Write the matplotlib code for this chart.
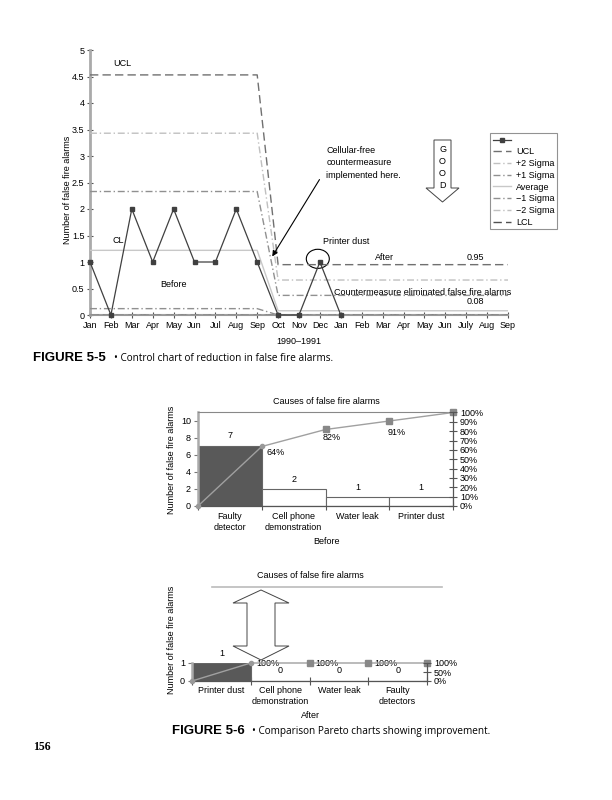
import numpy as np
import matplotlib
matplotlib.use("Agg")
import matplotlib.pyplot as plt
from matplotlib.patches import Ellipse, Polygon
from matplotlib.lines import Line2D

plt.rcParams['font.family'] = ['Liberation Sans', 'DejaVu Sans']

# ---- control chart data (Jan 1990 .. Sep 1991) ----
months = ["Jan", "Feb", "Mar", "Apr", "May", "Jun", "Jul", "Aug", "Sep",
          "Oct", "Nov", "Dec", "Jan", "Feb", "Mar", "Apr", "May", "Jun",
          "July", "Aug", "Sep"]
alarms = [1, 0, 2, 1, 2, 1, 1, 2, 1, 0, 0, 1, 0]

ucl = [4.53] * 9 + [0.95] * 12
plus2 = [3.43] * 9 + [0.66] * 12
plus1 = [2.33] * 9 + [0.37] * 12
average = [1.22] * 9 + [0.08] * 12
minus1 = [0.12] * 9 + [0.0] * 12
minus2 = [0.0] * 21
lcl = [0.0] * 21

# ---- pareto data ----
before_causes = ["Faulty\ndetector", "Cell phone\ndemonstration", "Water leak", "Printer dust"]
before_counts = [7, 2, 1, 1]
before_cumulative = [7, 9, 10, 11]
before_pct = [64, 82, 91, 100]

after_causes = ["Printer dust", "Cell phone\ndemonstration", "Water leak", "Faulty\ndetectors"]
after_counts = [1, 0, 0, 0]
after_cumulative = [1, 1, 1, 1]
after_pct = [100, 100, 100, 100]

W, H = 612, 800
fig = plt.figure(figsize=(W / 100, H / 100), dpi=100)


def fx(px):
    return px / W


def fy(py):
    return 1 - py / H


FS = 6.5

# ================= Figure 5-5: control chart =================
ax1 = fig.add_axes([fx(90), fy(315), 418 / W, 265 / H])
x = np.arange(len(months))

limit_styles = [
    ("UCL", ucl, '#707070', (6, 3)),
    ("+2 Sigma", plus2, '#c0c0c0', (5, 2, 1, 2)),
    ("+1 Sigma", plus1, '#909090', (5, 2, 1, 2)),
    ("Average", average, '#c8c8c8', None),
    ("\u22121 Sigma", minus1, '#909090', (5, 2, 1, 2)),
    ("\u22122 Sigma", minus2, '#c0c0c0', (5, 2, 1, 2)),
    ("LCL", lcl, '#505050', (6, 3)),
]
handles = []
h, = ax1.plot(x[:len(alarms)], alarms, color='#404040', lw=0.9, marker='s', ms=2.5,
              clip_on=False, zorder=5, label=' ')
handles.append(h)
for name, vals, col, dash in limit_styles:
    if dash is None:
        ln, = ax1.plot(x, vals, color=col, lw=1.0, label=name, zorder=3)
    else:
        ln, = ax1.plot(x, vals, color=col, lw=1.0, dashes=dash, label=name, zorder=3)
    handles.append(ln)

ax1.set_xlim(0, 20)
ax1.set_ylim(0, 5)
ax1.set_xticks(x)
ax1.set_xticklabels(months, fontsize=FS)
yt = np.arange(0, 5.01, 0.5)
ax1.set_yticks(yt)
ax1.set_yticklabels(['{:g}'.format(v) for v in yt], fontsize=FS)
ax1.tick_params(axis='both', direction='inout', length=4, width=0.8, color='#555', pad=2)
for s in ['top', 'right']:
    ax1.spines[s].set_visible(False)
ax1.spines['left'].set_color('#aaaaaa')
ax1.spines['left'].set_linewidth(2)
ax1.spines['bottom'].set_color('#999999')
ax1.spines['bottom'].set_linewidth(1.5)
ax1.set_xlabel("1990\u20131991", fontsize=FS, labelpad=5)
fig.text(fx(68), fy(190), "Number of false fire alarms", rotation=90, fontsize=FS,
         ha='center', va='center')

ax1.text(1.1, 4.75, "UCL", fontsize=FS, va='center')
ax1.text(1.1, 1.41, "CL", fontsize=FS, va='center')
ax1.text(4.0, 0.57, "Before", fontsize=FS, ha='center', va='center')
ax1.text(11.3, 2.87, "Cellular-free\ncountermeasure\nimplemented here.", fontsize=FS,
         va='center', linespacing=1.45)
ax1.annotate('', xy=(8.65, 1.06), xytext=(11.05, 2.6),
             arrowprops=dict(arrowstyle='-|>', color='black', lw=0.8, mutation_scale=8))
ax1.text(11.15, 1.38, "Printer dust", fontsize=FS, va='center')
ax1.add_patch(Ellipse((10.9, 1.06), 1.1, 0.36, fill=False, ec='black', lw=0.8))
ax1.text(14.07, 1.09, "After", fontsize=FS, ha='center', va='center')
ax1.text(18.45, 1.09, "0.95", fontsize=FS, ha='center', va='center')
ax1.text(11.67, 0.42, "Countermeasure eliminated false fire alarms", fontsize=FS, va='center')
ax1.text(18.45, 0.25, "0.08", fontsize=FS, ha='center', va='center')

# GOOD arrow
good = Polygon([(fx(434), fy(140)), (fx(451), fy(140)), (fx(451), fy(188)), (fx(459), fy(188)),
                (fx(442.5), fy(202)), (fx(426), fy(188)), (fx(434), fy(188))],
               closed=True, fill=False, ec='#444', lw=0.7, transform=fig.transFigure)
fig.patches.append(good)
for ch, py in zip("GOOD", [149, 161, 174, 186]):
    fig.text(fx(442.5), fy(py), ch, fontsize=FS, ha='center', va='center')

leg = ax1.legend(handles=handles, loc='upper left', bbox_to_anchor=(fx(490), fy(133)),
                 bbox_transform=fig.transFigure, fontsize=FS, frameon=True, fancybox=False,
                 edgecolor='#777', handlelength=2.0, handletextpad=0.6, labelspacing=0.3,
                 borderpad=0.3, borderaxespad=0)
leg.get_frame().set_linewidth(0.8)

fig.text(fx(33), fy(361), "FIGURE 5-5", fontsize=9.5, fontweight='bold', va='baseline')
fig.text(fx(114), fy(361), "\u2022 Control chart of reduction in false fire alarms.",
         fontsize=7.2, family=['Open Sans', 'DejaVu Sans'], va='baseline')


# ================= Figure 5-6: Pareto charts =================
def pareto(ax, counts, cumulative, causes, pct_ticks, label_pad):
    n = len(counts)
    xs = np.arange(n)
    cols = ['#595959'] + ['white'] * (n - 1)
    ax.bar(xs, counts, width=1.0, align='edge', color=cols, edgecolor='#666', lw=0.8, zorder=2)
    cx = np.arange(n + 1)
    cy = [0] + list(cumulative)
    ax.plot(cx, cy, color='#a0a0a0', lw=1.0, zorder=4, clip_on=False)
    ax.plot(cx[2:], cy[2:], 's', color='#888888', ms=4, zorder=5, clip_on=False)
    ax.plot(cx[:2], cy[:2], 'o', color='#999999', ms=3, zorder=5, clip_on=False)
    ax.set_xlim(0, n)
    ax.set_xticks(cx)
    ax.set_xticklabels([])
    ax.tick_params(axis='x', direction='inout', length=6, color='#555', width=0.8)
    ax.tick_params(axis='y', direction='out', length=3, color='#777', width=0.8,
                   labelsize=FS, pad=2)
    ax.spines['left'].set_color('#aaaaaa')
    ax.spines['left'].set_linewidth(1.8)
    ax.spines['bottom'].set_color('#555')
    ax.spines['bottom'].set_linewidth(0.9)
    ax.spines['right'].set_visible(False)
    for i, c in enumerate(causes):
        ax.annotate(c, xy=(i + 0.5, 0), xycoords=('data', 'axes fraction'),
                    xytext=(0, -label_pad), textcoords='offset points',
                    ha='center', va='top', fontsize=FS, linespacing=1.25)
    axr = ax.twinx()
    axr.set_ylim(0, 100)
    axr.set_yticks(pct_ticks)
    axr.set_yticklabels(['{}%'.format(p) for p in pct_ticks], fontsize=FS)
    axr.tick_params(axis='y', direction='inout', length=6, color='#555', width=0.8, pad=2)
    for s in ['top', 'left', 'bottom']:
        axr.spines[s].set_visible(False)
    axr.spines['right'].set_color('#555')
    axr.spines['right'].set_linewidth(0.9)
    return axr


ax2 = fig.add_axes([fx(198), fy(506), 255 / W, 93.5 / H])
ax2.set_ylim(0, 11)
ax2.set_yticks([0, 2, 4, 6, 8, 10])
pareto(ax2, before_counts, before_cumulative, before_causes, list(range(0, 101, 10)), 4.5)
ax2.spines['top'].set_color('#888')
ax2.spines['top'].set_linewidth(0.8)
ax2.text(0.5, 8.35, str(before_counts[0]), fontsize=FS, ha='center', va='center')
ax2.text(1.5, 3.06, str(before_counts[1]), fontsize=FS, ha='center', va='center')
ax2.text(2.5, 2.2, str(before_counts[2]), fontsize=FS, ha='center', va='center')
ax2.text(3.5, 2.2, str(before_counts[3]), fontsize=FS, ha='center', va='center')
ax2.text(1.07, before_cumulative[0] - 0.75, '{}%'.format(before_pct[0]), fontsize=FS,
         ha='left', va='center')
ax2.text(2.1, before_cumulative[1] - 1.0, '{}%'.format(before_pct[1]), fontsize=FS,
         ha='center', va='center')
ax2.text(3.12, before_cumulative[2] - 1.3, '{}%'.format(before_pct[2]), fontsize=FS,
         ha='center', va='center')
fig.text(fx(326), fy(402), "Causes of false fire alarms", fontsize=FS, ha='center', va='center')
fig.text(fx(326), fy(541), "Before", fontsize=FS, ha='center', va='center')
fig.text(fx(172), fy(460), "Number of false fire alarms", rotation=90, fontsize=FS,
         ha='center', va='center')

ax3 = fig.add_axes([fx(192), fy(681), 235 / W, 18 / H])
ax3.set_ylim(0, 1)
ax3.set_yticks([0, 1])
pareto(ax3, after_counts, after_cumulative, after_causes, [0, 50, 100], 3.5)
ax3.spines['top'].set_visible(False)
ax3.text(0.5, 1.55, str(after_counts[0]), fontsize=FS, ha='center', va='center')
for i in range(1, 4):
    ax3.text(i + 0.5, 0.6, str(after_counts[i]), fontsize=FS, ha='center', va='center')
for i in range(3):
    ax3.text(i + 1.1, after_cumulative[i], '{}%'.format(after_pct[i]), fontsize=FS,
             ha='left', va='center')
fig.text(fx(310), fy(576), "Causes of false fire alarms", fontsize=FS, ha='center', va='center')
fig.add_artist(Line2D([fx(212), fx(442)], [fy(587), fy(587)], color='#bbbbbb', lw=1.2,
                      transform=fig.transFigure))
fig.text(fx(310), fy(716), "After", fontsize=FS, ha='center', va='center')
fig.text(fx(172), fy(640), "Number of false fire alarms", rotation=90, fontsize=FS,
         ha='center', va='center')

# double headed block arrow
dbl = Polygon([(fx(261), fy(590)), (fx(289), fy(603)), (fx(275), fy(603)), (fx(275), fy(646)),
               (fx(289), fy(646)), (fx(261), fy(660)), (fx(233), fy(646)), (fx(247), fy(646)),
               (fx(247), fy(603)), (fx(233), fy(603))],
              closed=True, fill=True, fc='white', ec='#444', lw=0.7, transform=fig.transFigure,
              zorder=6)
fig.patches.append(dbl)

fig.text(fx(172), fy(734), "FIGURE 5-6", fontsize=9.5, fontweight='bold', va='baseline')
fig.text(fx(252), fy(734), "\u2022 Comparison Pareto charts showing improvement.",
         fontsize=7.2, family=['Open Sans', 'DejaVu Sans'], va='baseline')
fig.text(fx(33), fy(750), "156", fontsize=8.5, fontweight='bold',
         family=['Liberation Serif', 'DejaVu Serif'], va='baseline')

fig.savefig("out.png", dpi=100, facecolor='white')
